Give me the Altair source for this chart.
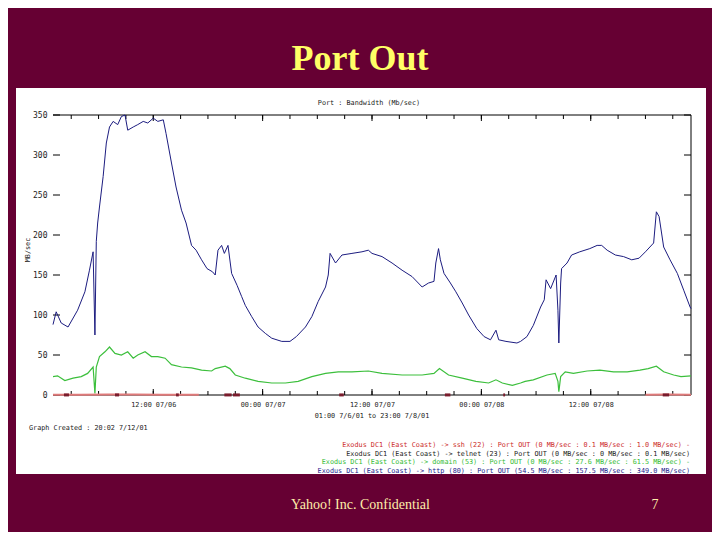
import altair as alt
import pandas as pd

# ---------------- data ----------------
# hours after 01:00 07/06/01
http_hours = [0.0, 0.35, 0.9, 1.65, 2.7, 3.5, 4.0, 4.4, 4.6, 4.75, 4.9, 5.1, 5.5, 5.85, 6.2, 6.6,
              7.1, 7.5, 7.9, 8.2, 8.8, 9.3, 9.9, 10.4, 11.0, 11.5, 12.1, 12.4, 13.0, 13.5, 14.1,
              14.6, 15.2, 15.7, 16.3, 16.9, 17.5, 17.8, 18.1, 18.5, 18.8, 19.2, 19.6, 20.2, 20.7,
              21.1, 21.8, 22.5, 23.3, 24.0, 25.1, 26.0, 26.7, 27.7, 28.4, 29.1, 29.9, 30.2, 30.4,
              31.0, 31.7, 32.8, 33.9, 34.6, 35.0, 36.1, 37.2, 38.3, 39.4, 40.5, 41.2, 41.8, 42.0,
              42.3, 42.5, 42.9, 43.6, 44.2, 44.9, 45.6, 46.5, 47.3, 48.0, 48.6, 48.9, 49.7, 50.9,
              51.3, 52.0, 52.7, 53.5, 53.9, 54.1, 54.6, 55.2, 55.4, 55.5, 55.7, 55.8, 56.4, 56.9,
              57.8, 58.9, 59.7, 60.2, 60.8, 61.7, 62.6, 63.5, 64.3, 65.0, 65.9, 66.2, 66.5, 67.0,
              67.7, 68.5, 69.2, 69.9, 70.0]
http_values = [88, 104, 90, 85, 106, 129, 156, 179, 75, 192, 215, 235, 273, 315, 335, 342,
               338, 348, 350, 331, 335, 338, 342, 340, 346, 342, 344, 327, 290, 260, 231,
               215, 187, 181, 169, 158, 154, 150, 181, 187, 177, 187, 152, 137, 123,
               112, 98, 85, 77, 71, 67, 67, 73, 85, 98, 117, 135, 150, 177,
               165, 175, 177, 179, 181, 177, 173, 165, 156, 148, 135, 140, 142, 165,
               183, 169, 152, 140, 129, 115, 100, 83, 73, 69, 81, 69, 67, 65,
               67, 73, 87, 110, 119, 144, 133, 150, 106, 65, 140, 158, 165, 175,
               179, 183, 187, 187, 181, 175, 173, 169, 171, 179, 190, 229, 223, 185,
               169, 152, 131, 110, 108]

domain_hours = [0.0, 0.5, 1.3, 2.2, 3.1, 3.8, 4.4, 4.6, 4.75, 5.1, 5.7, 6.2, 6.8, 7.5, 8.2, 8.8,
                9.3, 10.1, 10.8, 11.5, 12.3, 13.0, 14.1, 15.2, 16.3, 17.4, 17.8, 18.9, 19.4, 20.0,
                21.1, 22.5, 24.0, 25.5, 26.9, 28.4, 29.9, 31.3, 32.8, 34.6, 36.1, 38.3, 40.5,
                41.8, 42.4, 43.4, 44.9, 46.4, 47.8, 48.6, 49.3, 50.4, 51.3, 51.8, 52.7, 54.2,
                55.1, 55.4, 55.5, 55.7, 56.2, 57.1, 58.6, 60.0, 61.5, 63.0, 64.4, 65.3, 66.2,
                67.0, 68.1, 68.9, 70.0]
domain_values = [23, 24, 18, 21, 23, 27, 35, 2, 35, 48, 54, 60, 52, 50, 54, 46,
                 50, 54, 48, 48, 46, 38, 35, 34, 31, 30, 33, 36, 33, 25,
                 21, 17, 15, 15, 17, 23, 27, 29, 29, 30, 27, 25, 25,
                 27, 33, 25, 21, 17, 15, 19, 15, 12, 15, 17, 19, 25,
                 27, 17, 4, 23, 29, 27, 30, 31, 29, 29, 31, 33, 36,
                 29, 25, 23, 24]

ssh_hours = [0.0, 3.0, 6.0, 9.0, 12.0, 16.0, 65.0, 67.5, 70.0]
ssh_values = [0.3, 0.4, 0.6, 0.5, 0.4, 0.3, 0.3, 0.5, 0.4]
ssh_segment = [1, 1, 1, 1, 1, 1, 2, 2, 2]

telnet_start = [1.2, 6.8, 13.5, 18.8, 19.75, 31.4, 43.0, 49.4, 66.9]
telnet_end = [1.75, 7.25, 13.8, 19.6, 20.5, 31.9, 43.6, 49.6, 67.6]
telnet_values = [0.1, 0.1, 0.1, 0.1, 0.1, 0.1, 0.1, 0.1, 0.1]

y_ticks = [0, 50, 100, 150, 200, 250, 300, 350]
minor_tick_hours = [2, 5, 8, 11, 14, 17, 20, 23, 26, 29, 32, 35, 38, 41, 44, 47, 50, 53, 56, 59, 62, 65, 68]
major_tick_hours = [11, 23, 35, 47, 59]
x_label_format = "%H:%M %m/%d"

slide_title = "Port Out"
chart_title = "Port : Bandwidth (Mb/sec)"
y_title = "MB/sec"
x_title = "01:00 7/6/01 to 23:00 7/8/01"
created = "Graph Created : 20:02 7/12/01"
legend_lines = [
    "Exodus DC1 (East Coast) -> ssh (22) : Port OUT (0 MB/sec : 0.1 MB/sec : 1.0 MB/sec) -",
    "Exodus DC1 (East Coast) -> telnet (23) : Port OUT (0 MB/sec : 0 MB/sec : 0.1 MB/sec)",
    "Exodus DC1 (East Coast) -> domain (53) : Port OUT (0 MB/sec : 27.6 MB/sec : 61.5 MB/sec) -",
    "Exodus DC1 (East Coast) -> http (80) : Port OUT (54.5 MB/sec : 157.5 MB/sec : 349.0 MB/sec)",
]
footer = "Yahoo! Inc. Confidential"
page_no = "7"

# ---------------- helpers ----------------
BASE = pd.Timestamp("2001-07-06 01:00")


def iso(hours):
    return [(BASE + pd.Timedelta(hours=h)).strftime("%Y-%m-%dT%H:%M:%SZ") for h in hours]


def dt(hours):
    ts = BASE + pd.Timedelta(hours=hours)
    return alt.DateTime(year=ts.year, month=ts.month, date=ts.day, hours=ts.hour, utc=True)


W, H = 638, 280
MONO = "DejaVu Sans Mono"

xscale = alt.Scale(type="utc", domain=[dt(0), dt(70)])
yscale = alt.Scale(domain=[0, 350])

xaxis = alt.Axis(
    values=[dt(h) for h in major_tick_hours],
    labelExpr=f"utcFormat(datum.value, '{x_label_format}')",
    title="", grid=False,
    ticks=False, tickSize=0, domain=False, zindex=1,
    labelFont=MONO, labelFontSize=6.8, labelColor="#222222", labelPadding=6)
yaxis = alt.Axis(values=y_ticks, title="", grid=False, ticks=False, tickSize=0,
                 domain=False, zindex=1, labelFont=MONO, labelFontSize=8,
                 labelColor="#222222", labelPadding=6)


def one_row():
    return pd.DataFrame({"a": [0]})


def text_layer(txt, x, y, size=6.8, color="#222222", align="center", font=MONO,
               weight="normal", angle=0, baseline="middle"):
    kw = dict(fontSize=size, color=color, align=align, font=font, fontWeight=weight,
              baseline=baseline)
    if angle:
        kw["angle"] = angle
    return alt.Chart(pd.DataFrame({"t": [txt]})).mark_text(**kw).encode(
        text="t:N", x=alt.value(x), y=alt.value(y))


# ---------------- layers ----------------
panel = alt.Chart(one_row()).mark_rect(color="#ffffff").encode(
    x=alt.value(-37), x2=alt.value(653), y=alt.value(-27), y2=alt.value(359))

http_df = pd.DataFrame({"t": iso(http_hours), "v": http_values})
domain_df = pd.DataFrame({"t": iso(domain_hours), "v": domain_values})
ssh_df = pd.DataFrame({"t": iso(ssh_hours), "v": ssh_values, "seg": ssh_segment})
telnet_df = pd.DataFrame({"t": iso(telnet_start), "t2": iso(telnet_end), "v": telnet_values})
ytick_df = pd.DataFrame({"v": y_ticks})
minor_df = pd.DataFrame({"t": iso(minor_tick_hours)})
major_df = pd.DataFrame({"t": iso(major_tick_hours)})


def X(f="t"):
    return alt.X(f"{f}:T", scale=xscale, axis=xaxis)


def Y():
    return alt.Y("v:Q", scale=yscale, axis=yaxis)


frame_top = alt.Chart(one_row()).mark_rule(color="#000000", strokeWidth=1).encode(
    x=alt.value(0), x2=alt.value(W), y=alt.value(0))
frame_bottom = alt.Chart(one_row()).mark_rule(color="#000000", strokeWidth=1).encode(
    x=alt.value(0), x2=alt.value(W), y=alt.value(H))
frame_right = alt.Chart(one_row()).mark_rule(color="#000000", strokeWidth=1).encode(
    x=alt.value(W), y=alt.value(0), y2=alt.value(H))

ytick_left = alt.Chart(ytick_df).mark_rule(color="#000000").encode(
    y=Y(), x=alt.value(0), x2=alt.value(7))
ytick_right = alt.Chart(ytick_df).mark_rule(color="#000000").encode(
    y=Y(), x=alt.value(W - 7), x2=alt.value(W))
minor_bottom = alt.Chart(minor_df).mark_rule(color="#000000").encode(
    x=X(), y=alt.value(H - 4), y2=alt.value(H))
minor_top = alt.Chart(minor_df).mark_rule(color="#000000").encode(
    x=X(), y=alt.value(0), y2=alt.value(4))
major_bottom = alt.Chart(major_df).mark_rule(color="#000000").encode(
    x=X(), y=alt.value(H - 6), y2=alt.value(H))
major_top = alt.Chart(major_df).mark_rule(color="#000000").encode(
    x=X(), y=alt.value(0), y2=alt.value(6))

domain_line = alt.Chart(domain_df).mark_line(color="#3cbf3c", strokeWidth=1.2).encode(x=X(), y=Y())
http_line = alt.Chart(http_df).mark_line(color="#1c1c80", strokeWidth=1).encode(x=X(), y=Y())
ssh_line = alt.Chart(ssh_df).mark_line(color="#e07a7a", strokeWidth=2).encode(
    x=X(), y=Y(), detail="seg:N")
telnet_marks = alt.Chart(telnet_df).mark_rule(color="#7a1c2c", strokeWidth=3).encode(
    x=X(), x2="t2:T", y=Y())

texts = [
    text_layer(slide_title, 307, -45, size=36, color="#ffff66", font="Liberation Serif",
               weight="bold", baseline="alphabetic"),
    text_layer(chart_title, 316, -12),
    text_layer(y_title, -25, 135, angle=270),
    text_layer(x_title, 319, 301),
    text_layer(created, -24, 313, align="left"),
    text_layer(footer, 238, 394, size=14, color="#ffeeaa", font="Liberation Serif",
               align="left", baseline="alphabetic"),
    text_layer(page_no, 602, 394, size=14, color="#ffeeaa", font="Liberation Serif",
               baseline="alphabetic"),
]
legend_colors = ["#cc2a2a", "#222222", "#33bb33", "#1c1c8c"]
for i, (line, col) in enumerate(zip(legend_lines, legend_colors)):
    texts.append(text_layer(line, 637, 330 + i * 8.5, color=col, align="right"))

chart = alt.layer(
    panel, frame_top, frame_bottom, frame_right, ytick_left, ytick_right,
    minor_bottom, minor_top, major_bottom, major_top,
    domain_line, http_line, ssh_line, telnet_marks, *texts
).properties(
    width=W, height=H,
    background="#660033",
    autosize=alt.AutoSizeParams(type="none"),
    padding={"left": 45, "top": 107, "right": 21, "bottom": 137},
).configure_view(stroke=None)

chart.save("out.html", embed_options={"renderer": "svg", "actions": False})
